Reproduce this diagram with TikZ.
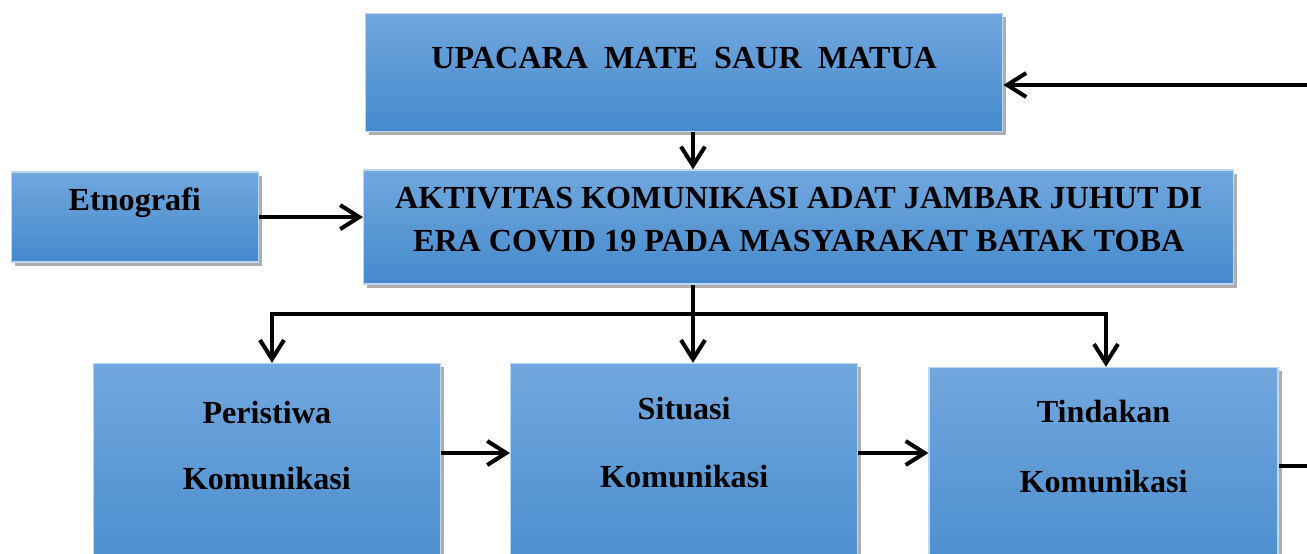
\documentclass[tikz,border=0pt]{standalone}
\usepackage{fontspec}
\setmainfont{Liberation Serif}
\usepackage{tikz}
\usetikzlibrary{arrows.meta, positioning, shadows}

\definecolor{boxtop}{RGB}{113,167,222}
\definecolor{boxbottom}{RGB}{68,138,204}
\definecolor{boxedge}{RGB}{190,215,240}

\begin{document}
\begin{tikzpicture}[
  box/.style={draw=boxedge, line width=0.8pt, top color=boxtop, bottom color=boxbottom,
    align=center, inner sep=0pt, font=\fontsize{18.3}{24}\selectfont\bfseries,
    drop shadow={shadow xshift=0.07cm, shadow yshift=-0.07cm, opacity=0.45, fill=black!70}},
  arrow/.style={-{Straight Barb[length=3.8mm, width=4.8mm]}, line width=2.3pt},
  link/.style={line width=2.3pt}
]
\clip (0,0) rectangle (26.14,11.08);

\node[box, anchor=north west, minimum width=12.74cm, minimum height=2.36cm,
  text height=0pt, text depth=0.16cm] (upacara) at (7.30,10.82) {UPACARA\ \ MATE\ \ SAUR\ \ MATUA};
\node[box, below=0.74cm of upacara.south west, anchor=north west, xshift=-0.04cm,
  minimum width=17.40cm, minimum height=2.28cm, text height=0.96cm, text depth=0pt] (aktivitas)
  {AKTIVITAS KOMUNIKASI ADAT JAMBAR JUHUT DI\\ERA COVID 19 PADA MASYARAKAT BATAK TOBA};
\node[box, left=2.08cm of aktivitas, yshift=0.2cm, minimum width=4.94cm, minimum height=1.8cm,
  text height=0pt, text depth=0.28cm] (etnografi) {Etnografi};

\node[box, below right=1.56cm and 2.94cm of aktivitas.south west, minimum width=6.94cm,
  minimum height=4.8cm, text height=0.16cm, text depth=0pt] (situasi) {Situasi\\[0.52cm]Komunikasi};
\node[box, left=1.38cm of situasi, minimum width=6.94cm, minimum height=4.8cm,
  text height=0.24cm, text depth=0pt] (peristiwa) {Peristiwa\\[0.48cm]Komunikasi};
\node[box, right=1.40cm of situasi, yshift=-0.08cm, minimum width=6.98cm, minimum height=4.8cm,
  text height=0.20cm, text depth=0pt] (tindakan) {Tindakan\\[0.56cm]Komunikasi};

\coordinate (feedin) at (26.14,9.38);
\coordinate (split) at (13.86,4.80);
\coordinate (barleft) at (5.44,4.80);
\coordinate (barright) at (22.12,4.80);
\coordinate (midrow) at (0,2.02);
\coordinate (feedout) at (26.14,1.76);

\draw[arrow] (feedin) -- (feedin -| upacara.east);
\draw[arrow] (split |- upacara.south) -- (split |- aktivitas.north);
\draw[arrow] (etnografi.east) -- (etnografi.east -| aktivitas.west);
\draw[link] (split |- aktivitas.south) -- (split);
\draw[link, line cap=rect] (barleft) -- (barright);
\draw[arrow] (barleft) -- (barleft |- peristiwa.north);
\draw[arrow] (split) -- (split |- situasi.north);
\draw[arrow] (barright) -- (barright |- tindakan.north);
\draw[arrow] (peristiwa.east |- midrow) -- (situasi.west |- midrow);
\draw[arrow] (situasi.east |- midrow) -- (tindakan.west |- midrow);
\draw[link] (tindakan.east |- feedout) -- (feedout);
\end{tikzpicture}
\end{document}
